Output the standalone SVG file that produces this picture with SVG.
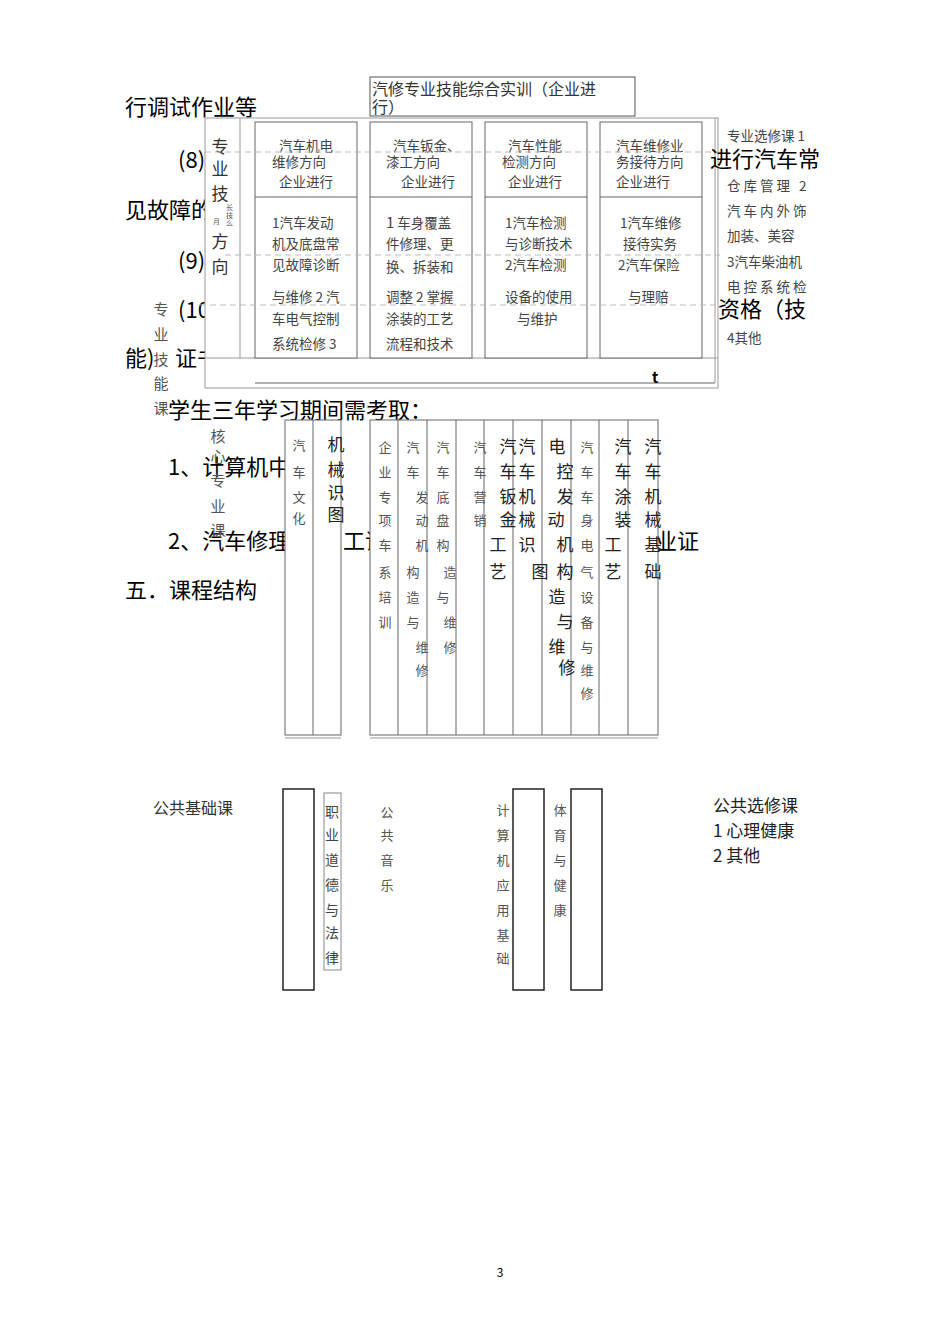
<svg xmlns="http://www.w3.org/2000/svg" width="950" height="1344" viewBox="0 0 950 1344">
<style>
text{font-family:"Noto Sans CJK SC","Noto Sans",sans-serif}
.big{font-size:22px;fill:#000}
.sm{font-size:13.5px;fill:#444}
.v13{font-size:13px;fill:#555;text-anchor:middle}
.v14{font-size:14px;fill:#444;text-anchor:middle}
.v15{font-size:15px;fill:#555;text-anchor:middle}
.v17{font-size:17px;fill:#222;text-anchor:middle}
.hd{font-size:16px;fill:#333}
.box{fill:#fff;stroke:#666;stroke-width:1}
.obox{fill:#fff;stroke:#999;stroke-width:1}
.ln{stroke:#666;stroke-width:1;fill:none}
.lg{stroke:#999;stroke-width:1;fill:none}
.dash{stroke:#bbb;stroke-width:1;stroke-dasharray:6 4;fill:none}
.pb{fill:#fff;stroke:#222;stroke-width:1.5}
.pl{font-size:16px;fill:#333}
</style>

<!-- background page text -->
<g id="page-text">
<text class="big" x="125" y="115">行调试作业等</text>
<text class="big" x="178" y="168">(8)</text>
<text class="big" x="125" y="218">见故障的</text>
<text class="big" x="178" y="269">(9)</text>
<text class="big" x="178" y="318">(10</text>
<text class="big" x="125" y="366">能)</text>
<text class="big" x="175" y="366">证书</text>
<text class="big" x="168" y="418">学生三年学习期间需考取：</text>
<text class="big" x="168" y="475">1、计算机中</text>
<text class="big" x="168" y="549">2、汽车修理</text>
<text class="big" x="343" y="549">工证</text>
<text class="big" x="655" y="549">业证</text>
<text class="big" x="125" y="598">五．课程结构</text>
</g>

<!-- top header box -->
<g id="node-training">
<rect x="370" y="77" width="265" height="39" fill="#fff" stroke="#555"/>
<text class="hd" x="372" y="95">汽修专业技能综合实训（企业进</text>
<text class="hd" x="372" y="113">行）</text>
</g>

<!-- professional direction box -->
<g id="node-direction">
<rect class="obox" x="205" y="118" width="513" height="270"/>
<line class="lg" x1="240" y1="118" x2="240" y2="358"/>
<line class="lg" x1="205" y1="358" x2="718" y2="358"/>
<line class="ln" x1="255" y1="383" x2="715" y2="383"/>
<line class="lg" x1="715" y1="118" x2="715" y2="383"/>
<g class="v17" style="fill:#333">
<text x="220" y="153">专</text>
<text x="220" y="175">业</text>
<text x="220" y="200">技</text>
<text x="220" y="248">方</text>
<text x="220" y="273">向</text>
</g>
<text x="213" y="224" style="font-size:7px;fill:#555">月</text>
<text x="226" y="210" style="font-size:7px;fill:#555">长</text>
<text x="226" y="218" style="font-size:7px;fill:#555">技</text>
<text x="226" y="226" style="font-size:7px;fill:#555">么</text>
<text x="652" y="383" style="font-size:15px;font-weight:bold;fill:#000">t</text>
</g>

<g id="node-col1">
<rect class="box" x="255" y="122" width="102" height="236"/>
<line class="ln" x1="255" y1="197" x2="357" y2="197"/>
<text class="sm" x="279" y="151">汽车机电</text>
<text class="sm" x="272" y="167">维修方向</text>
<text class="sm" x="279" y="187">企业进行</text>
<text class="sm" x="272" y="228">1汽车发动</text>
<text class="sm" x="272" y="249">机及底盘常</text>
<text class="sm" x="272" y="270">见故障诊断</text>
<text class="sm" x="272" y="302">与维修 2 汽</text>
<text class="sm" x="272" y="324">车电气控制</text>
<text class="sm" x="272" y="349">系统检修 3</text>
</g>

<g id="node-col2">
<rect class="box" x="370" y="122" width="102" height="236"/>
<line class="ln" x1="370" y1="197" x2="472" y2="197"/>
<text class="sm" x="393" y="151">汽车钣金、</text>
<text class="sm" x="386" y="167">漆工方向</text>
<text class="sm" x="401" y="187">企业进行</text>
<text class="sm" x="386" y="228"><tspan style="font-size:15px">1</tspan> 车身覆盖</text>
<text class="sm" x="386" y="249">件修理、更</text>
<text class="sm" x="386" y="272">换、拆装和</text>
<text class="sm" x="386" y="302">调整 2 掌握</text>
<text class="sm" x="386" y="324">涂装的工艺</text>
<text class="sm" x="386" y="349">流程和技术</text>
</g>

<g id="node-col3">
<rect class="box" x="485" y="122" width="102" height="236"/>
<line class="ln" x1="485" y1="197" x2="587" y2="197"/>
<text class="sm" x="508" y="151">汽车性能</text>
<text class="sm" x="502" y="167">检测方向</text>
<text class="sm" x="508" y="187">企业进行</text>
<text class="sm" x="505" y="228">1汽车检测</text>
<text class="sm" x="505" y="249">与诊断技术</text>
<text class="sm" x="505" y="270">2汽车检测</text>
<text class="sm" x="505" y="302">设备的使用</text>
<text class="sm" x="517" y="324">与维护</text>
</g>

<g id="node-col4">
<rect class="box" x="600" y="122" width="102" height="236"/>
<line class="ln" x1="600" y1="197" x2="702" y2="197"/>
<text class="sm" x="616" y="151">汽车维修业</text>
<text class="sm" x="616" y="167">务接待方向</text>
<text class="sm" x="616" y="187">企业进行</text>
<text class="sm" x="620" y="228">1汽车维修</text>
<text class="sm" x="623" y="249">接待实务</text>
<text class="sm" x="618" y="270">2汽车保险</text>
<text class="sm" x="628" y="302">与理赔</text>
</g>

<!-- dashed page guide lines -->
<g id="connectors">
<line class="dash" x1="205" y1="152" x2="720" y2="152"/>
<line class="dash" x1="225" y1="255" x2="720" y2="255"/>
<line class="dash" x1="200" y1="305" x2="720" y2="305"/>
</g>

<!-- overlay page text -->
<g id="overlay-text">
<text class="big" x="710" y="167">进行汽车常</text>
<text class="big" x="718" y="317">资格（技</text>
</g>

<!-- professional electives -->
<g id="node-electives">
<text class="sm" x="727" y="141">专业选修课 1</text>
<text class="sm" x="727" y="191" letter-spacing="3">仓库管理 2</text>
<text class="sm" x="727" y="216" letter-spacing="3">汽车内外饰</text>
<text class="sm" x="727" y="241">加装、美容</text>
<text class="sm" x="727" y="267">3汽车柴油机</text>
<text class="sm" x="727" y="292" letter-spacing="3">电控系统检</text>
<text class="sm" x="727" y="343">4其他</text>
</g>

<!-- vertical side labels -->
<g id="node-skill-label" class="v15">
<text x="161" y="315">专</text>
<text x="161" y="340">业</text>
<text x="161" y="365">技</text>
<text x="161" y="389">能</text>
<text x="161" y="414">课</text>
</g>

<g id="node-core-label" class="v15">
<text x="218" y="442">核</text>
<text x="218" y="462">心</text>
<text x="218" y="486">专</text>
<text x="218" y="512">业</text>
<text x="218" y="536">课</text>
</g>

<!-- core courses box 1 -->
<g id="node-core1">
<rect class="box" x="285" y="420" width="56" height="315"/>
<line class="ln" x1="313" y1="420" x2="313" y2="735"/>
<line class="lg" x1="285" y1="738" x2="341" y2="738"/>
<text class="v13" x="299" y="450">汽</text>
<text class="v13" x="299" y="477">车</text>
<text class="v13" x="299" y="502">文</text>
<text class="v13" x="299" y="523">化</text>
<text class="v17" x="336" y="451">机</text>
<text class="v17" x="336" y="476">械</text>
<text class="v17" x="336" y="499">识</text>
<text class="v17" x="336" y="521">图</text>
</g>

<!-- core courses box 2 -->
<g id="node-core2">
<rect class="box" x="370" y="420" width="288" height="315"/>
<g class="ln">
<line x1="398" y1="420" x2="398" y2="735"/>
<line x1="427" y1="420" x2="427" y2="735"/>
<line x1="456" y1="420" x2="456" y2="735"/>
<line x1="484" y1="420" x2="484" y2="735"/>
<line x1="513" y1="420" x2="513" y2="735"/>
<line x1="542" y1="420" x2="542" y2="735"/>
<line x1="571" y1="420" x2="571" y2="735"/>
<line x1="599" y1="420" x2="599" y2="735"/>
<line x1="628" y1="420" x2="628" y2="735"/>
</g>
<line class="lg" x1="370" y1="738" x2="658" y2="738"/>
<g class="v13">
<text x="385" y="452">企</text><text x="385" y="477">业</text><text x="385" y="502">专</text><text x="385" y="525">项</text><text x="385" y="550">车</text><text x="385" y="577">系</text><text x="385" y="602">培</text><text x="385" y="627">训</text>
<text x="413" y="452">汽</text><text x="413" y="477">车</text><text x="422" y="502">发</text><text x="422" y="525">动</text><text x="422" y="550">机</text><text x="413" y="577">构</text><text x="413" y="602">造</text><text x="413" y="627">与</text><text x="422" y="652">维</text><text x="422" y="675">修</text>
<text x="443" y="452">汽</text><text x="443" y="477">车</text><text x="443" y="502">底</text><text x="443" y="525">盘</text><text x="443" y="550">构</text><text x="450" y="577">造</text><text x="443" y="602">与</text><text x="450" y="627">维</text><text x="450" y="652">修</text>
<text x="480" y="452">汽</text><text x="480" y="477">车</text><text x="480" y="502">营</text><text x="480" y="525">销</text>
<text x="587" y="452">汽</text><text x="587" y="477">车</text><text x="587" y="502">车</text><text x="587" y="525">身</text><text x="587" y="550">电</text><text x="587" y="577">气</text><text x="587" y="602">设</text><text x="587" y="627">备</text><text x="587" y="652">与</text><text x="587" y="675">维</text><text x="587" y="698">修</text>
</g>
<g class="v17">
<text x="508" y="453">汽</text><text x="508" y="478">车</text><text x="508" y="503">钣</text><text x="508" y="526">金</text><text x="498" y="551">工</text><text x="498" y="578">艺</text>
<text x="527" y="453">汽</text><text x="527" y="478">车</text><text x="527" y="503">机</text><text x="527" y="526">械</text><text x="527" y="551">识</text><text x="540" y="578">图</text>
<text x="557" y="453">电</text><text x="565" y="478">控</text><text x="565" y="503">发</text><text x="556" y="526">动</text><text x="565" y="551">机</text><text x="565" y="578">构</text><text x="557" y="603">造</text><text x="565" y="628">与</text><text x="557" y="653">维</text><text x="567" y="674">修</text>
<text x="623" y="453">汽</text><text x="623" y="478">车</text><text x="623" y="503">涂</text><text x="623" y="526">装</text><text x="613" y="551">工</text><text x="613" y="578">艺</text>
<text x="653" y="453">汽</text><text x="653" y="478">车</text><text x="653" y="503">机</text><text x="653" y="526">械</text><text x="653" y="551">基</text><text x="653" y="578">础</text>
</g>
</g>

<!-- public foundation courses -->
<g id="node-public-label">
<text class="pl" x="153" y="814">公共基础课</text>
</g>
<g id="node-public1">
<rect class="pb" x="283" y="789" width="31" height="201"/>
</g>
<g id="node-ethics">
<rect x="324" y="793" width="17" height="177" fill="#fff" stroke="#888"/>
<g class="v14">
<text x="332" y="817">职</text><text x="332" y="840">业</text><text x="332" y="865">道</text><text x="332" y="890">德</text><text x="332" y="915">与</text><text x="332" y="938">法</text><text x="332" y="963">律</text>
</g>
</g>
<g id="node-music" class="v13">
<text x="387" y="817">公</text><text x="387" y="840">共</text><text x="387" y="865">音</text><text x="387" y="890">乐</text>
</g>
<g id="node-computer">
<rect class="pb" x="513" y="789" width="31" height="201"/>
<g class="v13">
<text x="503" y="815">计</text><text x="503" y="840">算</text><text x="503" y="865">机</text><text x="503" y="890">应</text><text x="503" y="915">用</text><text x="503" y="940">基</text><text x="503" y="963">础</text>
</g>
</g>
<g id="node-pe">
<rect class="pb" x="571" y="789" width="31" height="201"/>
<g class="v13">
<text x="560" y="815">体</text><text x="560" y="840">育</text><text x="560" y="865">与</text><text x="560" y="890">健</text><text x="560" y="915">康</text>
</g>
</g>
<g id="node-public-electives">
<text x="713" y="812" style="font-size:17px;fill:#222">公共选修课</text>
<text x="713" y="837" style="font-size:17px;fill:#222">1 心理健康</text>
<text x="713" y="862" style="font-size:17px;fill:#222">2 其他</text>
</g>

<text x="500" y="1277" style="font-size:12px;fill:#000;text-anchor:middle">3</text>
</svg>
